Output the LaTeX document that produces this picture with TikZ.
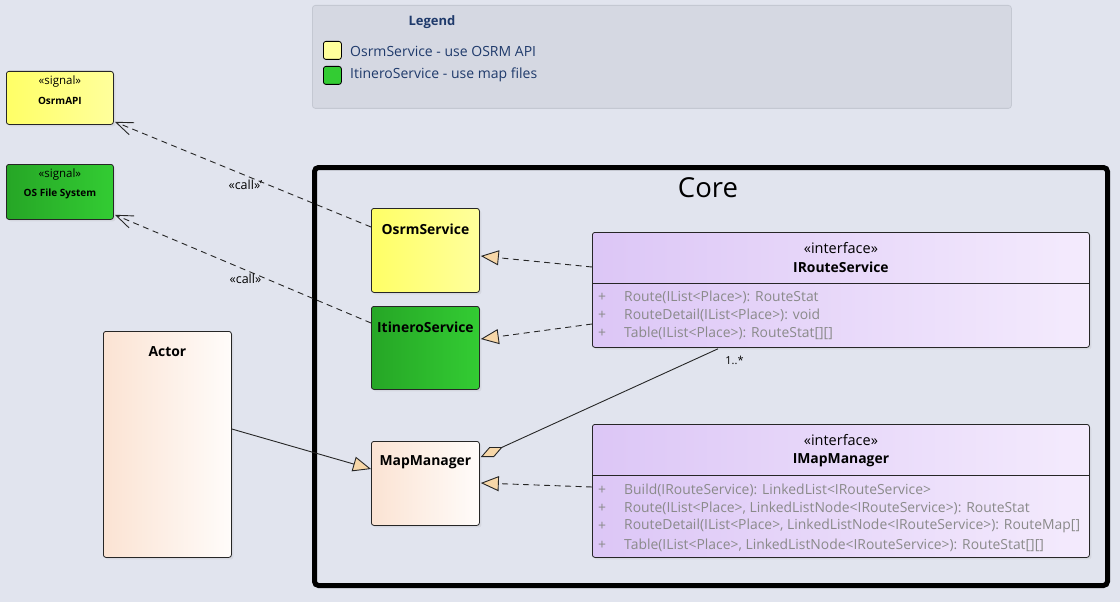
\documentclass[tikz,border=0pt]{standalone}
\usepackage{fontspec}
\setmainfont{Open Sans}
\usetikzlibrary{arrows.meta,shadows,calc}
\definecolor{bg}{HTML}{E1E4EE}
\definecolor{legfill}{HTML}{D5D8E2}
\definecolor{legdraw}{HTML}{C4C8D2}
\definecolor{legtext}{HTML}{1F3A6B}
\definecolor{yelL}{HTML}{FFFF66}
\definecolor{yelR}{HTML}{FFFF9C}
\definecolor{grnL}{HTML}{26A626}
\definecolor{grnR}{HTML}{33CC33}
\definecolor{pchL}{HTML}{FBE3D3}
\definecolor{pchR}{HTML}{FFFCFA}
\definecolor{purL}{HTML}{DCC6F6}
\definecolor{purR}{HTML}{F4EBFD}
\definecolor{tri}{HTML}{F7D7A8}
\definecolor{methgray}{HTML}{8A8A8A}
\begin{document}
\begin{tikzpicture}[x=1pt,y=-1pt,
  box/.style={draw=black!85, line width=0.8pt, rounded corners=2.5pt, anchor=north west, inner sep=0pt,
    drop shadow={shadow xshift=2pt,shadow yshift=-2pt,opacity=0.12}},
  yel/.style={box, left color=yelL, right color=yelR},
  grn/.style={box, left color=grnL, right color=grnR},
  pch/.style={box, left color=pchL, right color=pchR},
  pur/.style={box, left color=purL, right color=purR},
  sig/.style={font=\fontsize{11.5}{13}\selectfont, inner sep=0pt},
  signame/.style={font=\bfseries\fontsize{10}{12}\selectfont, inner sep=0pt},
  cname/.style={font=\bfseries\fontsize{13.9}{16}\selectfont, inner sep=0pt},
  stereo/.style={font=\fontsize{14.5}{16}\selectfont, inner sep=0pt},
  meth/.style={font=\fontsize{13.9}{16}\selectfont, text=methgray, anchor=west, inner sep=0pt},
  plus/.style={font=\fontsize{13.9}{16}\selectfont, text=methgray, inner sep=0pt},
  legt/.style={font=\fontsize{14}{16}\selectfont, text=legtext, anchor=west, inner sep=0pt},
  swatch/.style={draw=black, line width=0.8pt, rounded corners=2.5pt, minimum width=18pt, minimum height=18pt, inner sep=0pt, anchor=north west},
  dep/.style={draw=black!85, line width=0.9pt, dash pattern=on 6pt off 4.5pt, -{Straight Barb[length=17pt,width=13pt]}},
  real/.style={draw=black!85, line width=0.9pt, dash pattern=on 6pt off 4.5pt, -{Triangle[length=18pt,width=15pt,fill=tri]}},
  gen/.style={draw=black!85, line width=0.9pt, -{Triangle[length=18pt,width=15pt,fill=tri]}},
  agg/.style={draw=black!85, line width=0.9pt, {Diamond[length=24pt,width=11pt,fill=tri]}-},
  lbl/.style={font=\fontsize{12.5}{14}\selectfont, inner sep=0pt}
]
\useasboundingbox (0,0) rectangle (1120,602);
\fill[bg] (0,0) rectangle (1120,602);

% Legend
\node[draw=legdraw, fill=legfill, line width=0.8pt, rounded corners=3pt, anchor=north west, inner sep=0pt,
  minimum width=699pt, minimum height=103pt] (legend) at (312,5) {};
\node[font=\bfseries\fontsize{13}{15}\selectfont, text=legtext, inner sep=0pt] (legtitle) at (432,22) {Legend};
\node[swatch, fill=yelR] (swy) at (323,41) {};
\node[swatch, fill=grnR] (swg) at (323,66) {};
\node[legt] (legy) at (350,51) {OsrmService - use OSRM API};
\node[legt] (legg) at (350,75) {ItineroService - use map files};

% Core frame
\node[draw=black, line width=5pt, rounded corners=4pt, anchor=north west, inner sep=0pt,
  minimum width=793pt, minimum height=418pt] (core) at (312,165) {};
\node[font=\fontsize{27.5}{32}\selectfont, inner sep=0pt] (coret) at (708,188) {Core};

% Signals
\node[yel, minimum width=107pt, minimum height=53pt] (osrmapi) at (6,71) {};
\node[sig] (osrmapis) at ($(osrmapi.north)+(0,11)$) {«signal»};
\node[signame] (osrmapin) at ($(osrmapi.north)+(0,30)$) {OsrmAPI};
\node[grn, minimum width=107pt, minimum height=55pt] (osfs) at (6,164) {};
\node[sig] (osfss) at ($(osfs.north)+(0,11)$) {«signal»};
\node[signame] (osfsn) at ($(osfs.north)+(0,30)$) {OS File System};

% Services
\node[yel, minimum width=108pt, minimum height=84pt] (osrm) at (371,208) {};
\node[cname] (osrmn) at ($(osrm.north)+(0,21)$) {OsrmService};
\node[grn, minimum width=108pt, minimum height=83pt] (itin) at (371,306) {};
\node[cname] (itinn) at ($(itin.north)+(0,21)$) {ItineroService};
\node[pch, minimum width=108pt, minimum height=84pt] (mapm) at (371,441) {};
\node[cname] (mapmn) at ($(mapm.north)+(0,21)$) {MapManager};
\node[pch, minimum width=128pt, minimum height=226pt] (actor) at (103,331) {};
\node[cname] (actorn) at ($(actor.north)+(0,21)$) {Actor};

% IRouteService
\node[pur, minimum width=497pt, minimum height=115pt] (irs) at (592,232) {};
\node[stereo] (irss) at ($(irs.north)+(0,16)$) {«interface»};
\node[cname] (irsn) at ($(irs.north)+(0,35)$) {IRouteService};
\draw[black!85, line width=0.8pt] ($(irs.north west)+(0,51)$) -- ($(irs.north east)+(0,51)$);
\foreach \i/\y/\t in {1/297/{Route(IList<Place>): RouteStat},
                      2/315/{RouteDetail(IList<Place>): void},
                      3/333/{Table(IList<Place>): RouteStat[][]}} {
  \node[plus] (irsp\i) at (602,\y) {+};
  \node[meth] (irsm\i) at (624,\y) {\t};
}

% IMapManager
\node[pur, minimum width=497pt, minimum height=133pt] (imm) at (592,424) {};
\node[stereo] (imms) at ($(imm.north)+(0,16)$) {«interface»};
\node[cname] (immn) at ($(imm.north)+(0,36)$) {IMapManager};
\draw[black!85, line width=0.8pt] ($(imm.north west)+(0,51)$) -- ($(imm.north east)+(0,51)$);
\foreach \i/\y/\t in {1/490/{Build(IRouteService): LinkedList<IRouteService>},
                      2/508/{Route(IList<Place>, LinkedListNode<IRouteService>): RouteStat},
                      3/526/{RouteDetail(IList<Place>, LinkedListNode<IRouteService>): RouteMap[]},
                      4/545/{Table(IList<Place>, LinkedListNode<IRouteService>): RouteStat[][]}} {
  \node[plus] (immp\i) at (602,\y) {+};
  \node[meth] (immm\i) at (624,\y) {\t};
}

% Connectors
\draw[dep] ($(osrm.north west)+(0,19)$) -- ($(osrmapi.south east)+(1,-3)$)
  node[lbl, pos=0.49, below=4pt] (call1) {«call»'};
\draw[dep] ($(itin.north west)+(0,17)$) -- ($(osfs.south east)+(1,-5)$)
  node[lbl, pos=0.49, below=4pt] (call2) {«call»};
\draw[real] ($(irs.north west)+(0,35)$) -- ($(osrm.north east)+(1,48)$);
\draw[real] ($(irs.north west)+(0,92)$) -- ($(itin.north east)+(1,33)$);
\draw[real] ($(imm.north west)+(0,63)$) -- ($(mapm.north east)+(1,42)$);
\draw[gen] ($(actor.north east)+(0,98)$) -- ($(mapm.north west)+(0,28)$);
\draw[agg] ($(mapm.north east)+(1,16)$) -- ($(irs.south west)+(126,1)$)
  node[lbl, at end, anchor=north west, xshift=7pt, yshift=-7pt, font=\fontsize{11}{12}\selectfont] (mult) {1..*};
\end{tikzpicture}
\end{document}
